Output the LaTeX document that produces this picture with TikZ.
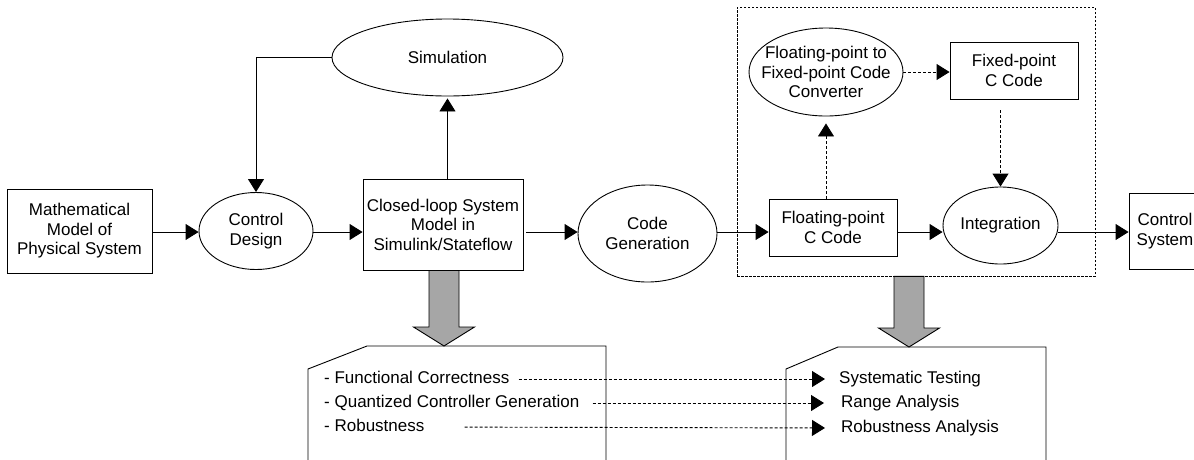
\documentclass[tikz,border=0pt]{standalone}
\usepackage{fontspec}
\setmainfont{Liberation Sans}
\usetikzlibrary{
  arrows.meta,
  positioning,
  calc,
  shapes.geometric
}
\newcommand{\fatarr}[2]{\path[fat] let \p1=(#1), \p2=(#2) in
  (\x2-15pt,\y1) -- (\x2-15pt,\y2+19pt) -- (\x2-30.5pt,\y2+19pt) -- (\x2,\y2)
  -- (\x2+30.5pt,\y2+19pt) -- (\x2+15pt,\y2+19pt) -- (\x2+15pt,\y1) -- cycle;}

\begin{document}
\begin{tikzpicture}[x=1pt, y=-1pt,
font=\fontsize{17}{19.5}\selectfont,
bx/.style={draw, line width=0.9pt, inner sep=0pt, align=center},
el/.style={draw, ellipse, line width=0.9pt, inner sep=0pt, align=center},
ar/.style={-{Triangle[length=13pt,width=16pt]}, line width=0.9pt},
da/.style={ar, dash pattern=on 3pt off 2pt},
grp/.style={draw, dash pattern=on 2.5pt off 1.5pt, line width=0.7pt, inner sep=0pt},
fat/.style={draw, line width=0.9pt, fill=black!35},
note/.style={draw, line width=0.9pt},
it/.style={anchor=west, inner sep=0pt, text height=12pt, text depth=3.5pt}
]
\useasboundingbox (0,0) rectangle (1194,459);
\clip (0,0) rectangle (1194,459);
\coordinate (row) at (0,232);
\node[bx, minimum width=145pt, minimum height=84pt] (mm) at (79.5,231) {Mathematical\\Model of\\Physical System};
\node[el, minimum width=114pt, minimum height=77pt] (cd) at (256,231) {Control\\Design};
\node[el, minimum width=231pt, minimum height=77pt] (sim) at (447.5,57.5) {Simulation};
\node[bx, minimum width=160pt, minimum height=91pt] (cl) at (443,224.5) {Closed-loop System\\Model in\\Simulink/Stateflow};
\node[el, minimum width=139pt, minimum height=97pt] (cg) at (647.5,233.5) {Code\\Generation};
\node[grp, minimum width=358pt, minimum height=269pt] (grpbox) at (916,141.5) {};
\node[bx, minimum width=128pt, minimum height=57pt] (fl) at (833,227.5) {Floating-point\\C Code};
\node[el, minimum width=154pt, minimum height=88pt, inner xsep=-12pt] (cv) at (826,72) {Floating-point to\\Fixed-point Code\\Converter};
\node[bx, minimum width=128pt, minimum height=57pt] (fx) at (1014,70.5) {Fixed-point\\C Code};
\node[el, minimum width=115pt, minimum height=77pt] (ig) at (1000.5,225.5) {Integration};
\node[bx, minimum width=72pt, minimum height=76pt] (cs) at (1165,231) {Control\\System};
\draw[ar] (mm.east |- row) -- (cd.west |- row);
\draw[ar] (cd.east |- row) -- (cl.west |- row);
\draw[ar] ([xshift=3pt]cl.east |- row) -- (cg.west |- row);
\draw[ar] (cg.east |- row) -- (fl.west |- row);
\draw[ar] (fl.east |- row) -- (ig.west |- row);
\draw[ar] (ig.east |- row) -- (cs.west |- row);
\draw[ar] (sim.west) -| (cd.north);
\draw[ar, shorten >=2pt] (sim.south |- cl.north) -- (sim.south);
\draw[da, shorten >=7pt] (cv.south |- fl.north) -- (cv.south);
\draw[da] (cv.east) -- (cv.east -| fx.west);
\draw[da, shorten <=11pt] (ig.north |- fx.south) -- (ig.north);
\draw[note] (308,470) -- (308,369) -- (367,346) -- (606,346) -- (606,470);
\draw[note] (786,470) -- (786,369) -- (838,347) -- (1046,347) -- (1046,470);
\coordinate (nl) at (444,346);
\coordinate (nr) at (909,347);
\fatarr{cl.south}{nl}
\fatarr{grpbox.south}{nr}
\node[it] (a1) at (324,379) {- Functional Correctness};
\node[it] (a2) at (324,403) {- Quantized Controller Generation};
\node[it] (a3) at (324,427) {- Robustness};
\node[it] (b1) at (839,379) {Systematic Testing};
\node[it] (b2) at (841,403) {Range Analysis};
\node[it] (b3) at (841,428) {Robustness Analysis};
\draw[da, shorten <=9pt, shorten >=14pt] (a1.east) -- (b1.west);
\draw[da, shorten <=13pt, shorten >=17pt] (a2.east) -- (b2.west);
\draw[da, shorten <=40pt, shorten >=16pt] (a3.east) -- (b3.west);
\end{tikzpicture}
\end{document}
